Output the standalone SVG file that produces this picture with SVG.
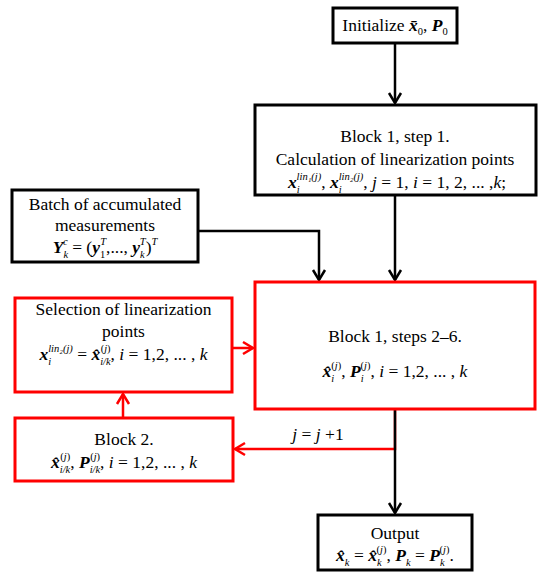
<svg xmlns="http://www.w3.org/2000/svg" width="550" height="578" viewBox="0 0 550 578">
<style>
text{font-family:"Liberation Serif","DejaVu Serif",serif;font-size:17.5px;fill:#000;text-anchor:middle}
.v{font-weight:bold;font-style:italic}
.i{font-style:italic}
.s{font-size:10.5px}
.bk{fill:#fff;stroke:#000;stroke-width:3}
.rd{fill:#fff;stroke:#f00;stroke-width:3}
.cb{fill:none;stroke:#000;stroke-width:2.5}
.cr{fill:none;stroke:#f00;stroke-width:2.5}
</style>
<defs>
<marker id="ab" viewBox="-12 -8 14 16" refX="0" refY="0" markerWidth="14" markerHeight="16" markerUnits="userSpaceOnUse" orient="auto">
<path d="M-10,-6 L0,0 L-10,6" fill="none" stroke="#000" stroke-width="2.5"/>
</marker>
<marker id="ar" viewBox="-12 -8 14 16" refX="0" refY="0" markerWidth="14" markerHeight="16" markerUnits="userSpaceOnUse" orient="auto">
<path d="M-10,-6 L0,0 L-10,6" fill="none" stroke="#f00" stroke-width="2.5"/>
</marker>
</defs>
<g id="connectors">
<path class="cb" d="M395,43 V103" marker-end="url(#ab)"/>
<path class="cb" d="M395,195 V280" marker-end="url(#ab)"/>
<path class="cb" d="M198,231 H319 V280" marker-end="url(#ab)"/>
<path class="cr" d="M232,348 H253" marker-end="url(#ar)"/>
<path class="cr" d="M395,409 V449 H235" marker-end="url(#ar)"/>
<path class="cr" d="M123,418 V394" marker-end="url(#ar)"/>
<path class="cb" d="M395,409 V513" marker-end="url(#ab)"/>
<text x="318" y="440"><tspan class="i">j</tspan> = <tspan class="i">j</tspan> +1</text>
</g>
<g id="init">
<rect class="bk" x="333" y="8" width="124" height="35"/>
<text x="395" y="31">Initialize <tspan class="v">x̄</tspan><tspan class="s" baseline-shift="-4">0</tspan>, <tspan class="v">P</tspan><tspan class="s" baseline-shift="-4">0</tspan></text>
</g>
<g id="block1step1">
<rect class="bk" x="255" y="105" width="281" height="90"/>
<text x="395" y="142">Block 1, step 1.</text>
<text x="395" y="165">Calculation of linearization points</text>
<text x="397" y="188"><tspan class="v">x</tspan><tspan class="s i" baseline-shift="-5">i</tspan><tspan class="s i" dx="-3" baseline-shift="8">lin₁(j)</tspan>, <tspan class="v">x</tspan><tspan class="s i" baseline-shift="-5">i</tspan><tspan class="s i" dx="-3" baseline-shift="8">lin₂(j)</tspan>, <tspan class="i">j</tspan> = 1, <tspan class="i">i</tspan> = 1, 2, ... ,<tspan class="i">k</tspan>;</text>
</g>
<g id="batch">
<rect class="bk" x="12" y="190" width="186" height="72"/>
<text x="105" y="210">Batch of accumulated</text>
<text x="105" y="231">measurements</text>
<text x="105" y="253"><tspan class="v">Y</tspan><tspan class="s i" baseline-shift="-5">k</tspan><tspan class="s i" dx="-5" baseline-shift="8">c</tspan> = (<tspan class="v">y</tspan><tspan class="s" baseline-shift="-5">1</tspan><tspan class="s i" dx="-5" baseline-shift="8">T</tspan>,..., <tspan class="v">y</tspan><tspan class="s i" baseline-shift="-5">k</tspan><tspan class="s i" dx="-5" baseline-shift="8">T</tspan>)<tspan class="s i" baseline-shift="8">T</tspan></text>
</g>
<g id="selection">
<rect class="rd" x="15" y="298" width="217" height="94"/>
<text x="123.5" y="315">Selection of linearization</text>
<text x="123.5" y="337">points</text>
<text x="123.5" y="360"><tspan class="v">x</tspan><tspan class="s i" baseline-shift="-5">i</tspan><tspan class="s i" dx="-3" baseline-shift="8">lin₂(j)</tspan> = <tspan class="v">x̂</tspan><tspan class="s i" baseline-shift="-5">i/k</tspan><tspan class="s" dx="-10" baseline-shift="8">(<tspan class="i">j</tspan>)</tspan>,  <tspan class="i">i</tspan> = 1,2, ... , <tspan class="i">k</tspan></text>
</g>
<g id="block1steps2to6">
<rect class="rd" x="255" y="282" width="280" height="127"/>
<text x="395" y="342">Block 1, steps 2–6.</text>
<text x="395" y="377"><tspan class="v">x̂</tspan><tspan class="s i" baseline-shift="-5">i</tspan><tspan class="s" dx="-3" baseline-shift="8">(<tspan class="i">j</tspan>)</tspan>,  <tspan class="v">P</tspan><tspan class="s i" baseline-shift="-5">i</tspan><tspan class="s" dx="-3" baseline-shift="8">(<tspan class="i">j</tspan>)</tspan>,  <tspan class="i">i</tspan> = 1,2, ... , <tspan class="i">k</tspan></text>
</g>
<g id="block2">
<rect class="rd" x="15" y="418" width="218" height="63"/>
<text x="124" y="445">Block 2.</text>
<text x="124" y="468"><tspan class="v">x̂</tspan><tspan class="s i" baseline-shift="-5">i/k</tspan><tspan class="s" dx="-10" baseline-shift="8">(<tspan class="i">j</tspan>)</tspan>,  <tspan class="v">P</tspan><tspan class="s i" baseline-shift="-5">i/k</tspan><tspan class="s" dx="-10" baseline-shift="8">(<tspan class="i">j</tspan>)</tspan>,  <tspan class="i">i</tspan> = 1,2, ... , <tspan class="i">k</tspan></text>
</g>
<g id="output">
<rect class="bk" x="318" y="515" width="154" height="55"/>
<text x="395" y="539">Output</text>
<text x="395" y="561"><tspan class="v">x̂</tspan><tspan class="s i" baseline-shift="-5">k</tspan> = <tspan class="v">x̂</tspan><tspan class="s i" baseline-shift="-5">k</tspan><tspan class="s" dx="-5" baseline-shift="8">(<tspan class="i">j</tspan>)</tspan>, <tspan class="v">P</tspan><tspan class="s i" baseline-shift="-5">k</tspan> = <tspan class="v">P</tspan><tspan class="s i" baseline-shift="-5">k</tspan><tspan class="s" dx="-5" baseline-shift="8">(<tspan class="i">j</tspan>)</tspan>.</text>
</g>
</svg>
